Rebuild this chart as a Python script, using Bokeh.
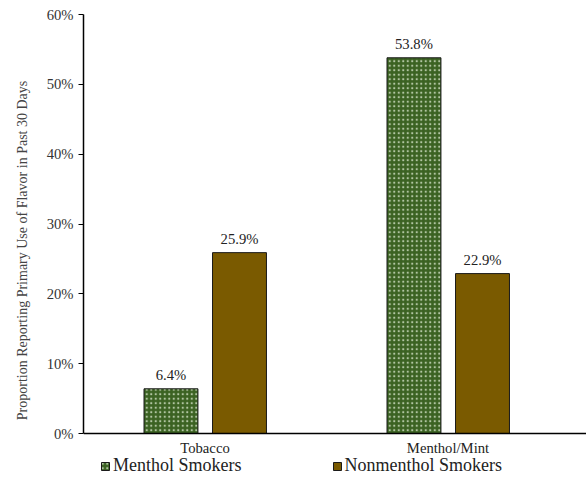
from bokeh.plotting import figure
from bokeh.models import (ColumnDataSource, Range1d, FixedTicker, NumeralTickFormatter, Legend,
                          LegendItem, LabelSet, Span)
from bokeh.embed import file_html
from bokeh.resources import INLINE

categories = ["Tobacco", "Menthol/Mint"]
menthol = [0.064, 0.538]
nonmenthol = [0.259, 0.229]
series_names = ["Menthol Smokers", "Nonmenthol Smokers"]

xs = [0.5, 1.5]
FONT = "Liberation Serif"

# frame spans 14..486 px; 0..0.6 occupies 14..433 px
YMAX = 0.6
YMIN = -YMAX * (486 - 433) / (433 - 14)

p = figure(width=586, height=486, output_backend="svg", toolbar_location=None,
           x_range=Range1d(0, 2.07), y_range=Range1d(YMIN, YMAX),
           frame_width=503, frame_height=472,
           min_border_left=83, min_border_right=0, min_border_top=14, min_border_bottom=0)
p.outline_line_color = None
p.xgrid.visible = False
p.ygrid.visible = False
p.xaxis.visible = False

src_m = ColumnDataSource(dict(x=[v - 0.14 for v in xs], y=menthol,
                              lab=["%.1f%%" % (v * 100) for v in menthol]))
src_n = ColumnDataSource(dict(x=[v + 0.142 for v in xs], y=nonmenthol,
                              lab=["%.1f%%" % (v * 100) for v in nonmenthol]))
src_c = ColumnDataSource(dict(x=xs, y=[0] * len(xs), lab=categories))

r1 = p.vbar(x="x", top="y", width=0.222, source=src_m, fill_color="#3b6222",
            line_color="#1a1a1a", line_width=1,
            hatch_pattern="dot", hatch_color="#e4f0d8", hatch_scale=4.5, hatch_weight=1, hatch_alpha=0.7)
r2 = p.vbar(x="x", top="y", width=0.222, source=src_n, fill_color="#7a5a00",
            line_color="#1a1a1a", line_width=1)

for src in (src_m, src_n):
    p.add_layout(LabelSet(x="x", y="y", text="lab", source=src, text_align="center",
                          text_baseline="bottom", y_offset=6, text_font=FONT,
                          text_font_size="11pt", text_color="#222222"))

# category axis: baseline line and labels
p.add_layout(Span(location=0, dimension="width", line_color="black", line_width=1.5))
p.add_layout(LabelSet(x="x", y="y", text="lab", source=src_c, text_align="center",
                      text_baseline="top", y_offset=-6, text_font=FONT,
                      text_font_size="11pt", text_color="#222222"))

p.yaxis.bounds = (0, YMAX)
p.yaxis.ticker = FixedTicker(ticks=[0, 0.1, 0.2, 0.3, 0.4, 0.5, 0.6])
p.yaxis.formatter = NumeralTickFormatter(format="0%")
p.yaxis.axis_label = "Proportion Reporting Primary Use of Flavor in Past 30 Days"
p.yaxis.axis_label_text_font = FONT
p.yaxis.axis_label_text_font_style = "normal"
p.yaxis.axis_label_text_font_size = "10.5pt"
p.yaxis.axis_label_standoff = 14
p.yaxis.major_label_text_font = FONT
p.yaxis.major_label_text_font_size = "11pt"
p.yaxis.major_label_text_color = "#333333"
p.yaxis.minor_tick_line_color = None
p.yaxis.major_tick_out = 5
p.yaxis.major_tick_in = 0
p.yaxis.axis_line_width = 1.5
p.yaxis.axis_line_color = "black"
p.yaxis.major_tick_line_color = "black"

legend = Legend(items=[LegendItem(label=series_names[0], renderers=[r1]),
                       LegendItem(label=series_names[1], renderers=[r2])],
                orientation="horizontal", location=(17, 10),
                label_text_font=FONT, label_text_font_size="13.5pt", label_text_color="#222222",
                glyph_width=10, glyph_height=10, label_standoff=3, spacing=90,
                border_line_color=None, background_fill_alpha=0,
                padding=0, margin=0)
p.add_layout(legend)

open("out.html", "w").write(file_html(p, INLINE))
